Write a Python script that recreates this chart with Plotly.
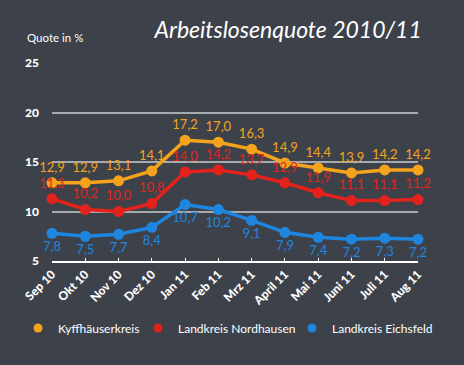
import plotly.graph_objects as go

months = ["Sep 10", "Okt 10", "Nov 10", "Dez 10", "Jan 11", "Feb 11", "Mrz 11",
          "April 11", "Mai 11", "Juni 11", "Juli 11", "Aug 11"]
kyff = [12.9, 12.9, 13.1, 14.1, 17.2, 17.0, 16.3, 14.9, 14.4, 13.9, 14.2, 14.2]
nord = [11.3, 10.2, 10.0, 10.8, 14.0, 14.2, 13.7, 12.9, 11.9, 11.1, 11.1, 11.2]
eich = [7.8, 7.5, 7.7, 8.4, 10.7, 10.2, 9.1, 7.9, 7.4, 7.2, 7.3, 7.2]
yticks = [5, 10, 15, 20, 25]

series = [
    ("Kyffhäuserkreis", kyff, "#f5a21c", "top center"),
    ("Landkreis Nordhausen", nord, "#e3221c", "top center"),
    ("Landkreis Eichsfeld", eich, "#1f86e0", "bottom center"),
]

fig = go.Figure()
for name, vals, col, pos in series:
    fig.add_trace(go.Scatter(
        x=list(range(len(months))), y=vals, name=name, showlegend=False,
        mode="lines+markers+text",
        line=dict(color=col, width=3.5),
        marker=dict(color=col, size=11),
        text=[f"{v:.1f}".replace(".", ",") for v in vals],
        textposition=pos,
        textfont=dict(color=col, size=13, family="Lato"),
        cliponaxis=False,
    ))

legend_ids = ["legend", "legend2", "legend3"]
legend_px = [18, 138, 292]  # left edge in pixels
for (name, vals, col, pos), lid in zip(series, legend_ids):
    fig.add_trace(go.Scatter(
        x=[None], y=[None], name=name, mode="markers", legend=lid,
        marker=dict(color=col, size=9),
    ))

plot_l, plot_r, plot_t, plot_b = 52, 418, 63, 261
pw = plot_r - plot_l
ph = plot_b - plot_t
leg_y = (plot_b - 328) / ph

legend_layout = {}
for lid, px in zip(legend_ids, legend_px):
    legend_layout[lid] = dict(
        orientation="h", x=(px - plot_l) / pw, xanchor="left", y=leg_y, yanchor="middle",
        font=dict(size=12, color="white", family="Lato"), itemwidth=30,
        bgcolor="rgba(0,0,0,0)",
    )

fig.update_layout(
    width=464, height=365,
    paper_bgcolor="#3d424a", plot_bgcolor="#3d424a",
    margin=dict(l=plot_l, r=464 - plot_r, t=plot_t, b=365 - plot_b, autoexpand=False),
    font=dict(family="Lato", color="white"),
    title=dict(text="<i>Arbeitslosenquote 2010/11</i>", x=0.333, xanchor="left", y=0.918, yanchor="middle",
               font=dict(size=23, color="white", family="Lato")),
    showlegend=True,
    annotations=[dict(text="Quote in %", x=-0.075, y=1.13, xref="paper", yref="paper", showarrow=False,
                      font=dict(size=11.5, color="white"), xanchor="left", yanchor="middle")],
    **legend_layout,
)

fig.update_xaxes(
    tickmode="array", tickvals=list(range(len(months))), ticktext=months,
    tickangle=-45, range=[0, 11], showgrid=False, zeroline=False,
    showline=True, linecolor="white", linewidth=1.5,
    ticks="inside", ticklen=3, tickcolor="white",
    tickfont=dict(size=12, color="white", family="Lato Black"),
)
fig.update_yaxes(
    range=[5, 25], tickvals=yticks, showgrid=True, gridcolor="#a6a9ad", gridwidth=1.5,
    zeroline=False, showline=False, ticks="", ticklabelstandoff=12,
    tickfont=dict(size=12, color="white", family="Lato Black"),
)

fig.write_html("out.html", config={"displayModeBar": False},
               post_script="document.body.style.margin='0';document.body.style.padding='0';")
